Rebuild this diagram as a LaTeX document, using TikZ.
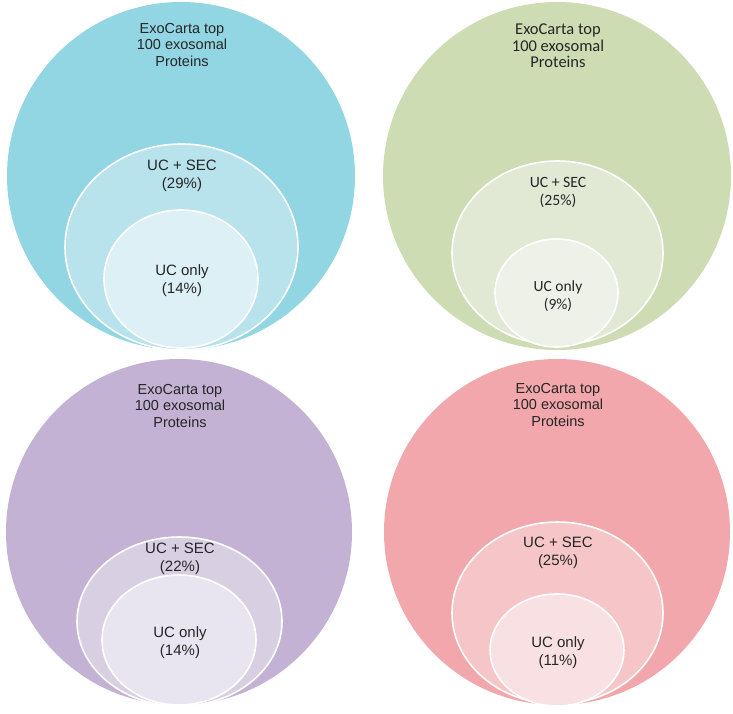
\documentclass[tikz,border=0pt]{standalone}
\usepackage{fontspec}
\setmainfont{Liberation Sans}
\newfontfamily\calfont{Carlito}
\definecolor{blueA}{HTML}{92D5E3}
\definecolor{blueB}{HTML}{B8E2EC}
\definecolor{blueC}{HTML}{DDF0F6}
\definecolor{greenA}{HTML}{CEDCB4}
\definecolor{greenB}{HTML}{E1E8D4}
\definecolor{greenC}{HTML}{EEF1E8}
\definecolor{purpA}{HTML}{C3B2D4}
\definecolor{purpB}{HTML}{D9CFE2}
\definecolor{purpC}{HTML}{E9E5F0}
\definecolor{pinkA}{HTML}{F1A7AB}
\definecolor{pinkB}{HTML}{F6C5C7}
\definecolor{pinkC}{HTML}{F9E0E2}
\tikzset{
  inring/.style={draw=white, line width=1.6pt},
  lbl/.style={align=center, inner sep=0pt, text=black!85, font=\fontsize{14.5}{16.5}\selectfont},
  lblmid/.style={align=center, inner sep=0pt, text=black!85, font=\fontsize{15}{18}\selectfont},
  lblcal/.style={align=center, inner sep=0pt, text=black!85, font=\calfont\fontsize{16.5}{16.5}\selectfont},
  lblcalmid/.style={align=center, inner sep=0pt, text=black!85, font=\calfont\fontsize{15.7}{18}\selectfont},
  lblcalin/.style={align=center, inner sep=0pt, text=black!85, font=\calfont\fontsize{15.5}{17.5}\selectfont},
}
\begin{document}
\begin{tikzpicture}[x=1pt,y=-1pt]
\useasboundingbox (0,0) rectangle (733,714);
\fill[white] (0,0) rectangle (733,714);
% Panel 1 (blue)
\fill[blueA] (181,176) circle (174);
\fill[blueB, inring] (181.5,247) ellipse [x radius=116.5, y radius=103];
\fill[blueC, inring] (181,279) ellipse [x radius=77, y radius=69];
\node[lbl] (t1) at (182,45) {ExoCarta top\\100 exosomal\\Proteins};
\node[lblmid] (m1) at (182,176) {UC + SEC\\(29\%)};
\node[lblmid] (i1) at (182,281) {UC only\\(14\%)};
% Panel 2 (green)
\fill[greenA] (557,176) circle (174);
\fill[greenB, inring] (557.5,253) ellipse [x radius=105.5, y radius=92];
\fill[greenC, inring] (556.5,293) ellipse [x radius=61.5, y radius=54];
\node[lblcal] (t2) at (558,46) {ExoCarta top\\100 exosomal\\Proteins};
\node[lblcalmid] (m2) at (558,192.5) {UC + SEC\\(25\%)};
\node[lblcalin] (i2) at (558,296) {UC only\\(9\%)};
% Panel 3 (purple)
\fill[purpA] (179,532) circle (173);
\fill[purpB, inring] (179.5,621.5) ellipse [x radius=102.5, y radius=84.5];
\fill[purpC, inring] (179,640) ellipse [x radius=77, y radius=65];
\node[lbl] (t3) at (180,406) {ExoCarta top\\100 exosomal\\Proteins};
\node[lblmid] (m3) at (180,559) {UC + SEC\\(22\%)};
\node[lblmid] (i3) at (180,643) {UC only\\(14\%)};
% Panel 4 (pink)
\fill[pinkA] (557,532) circle (173);
\fill[pinkB, inring] (557.5,613) ellipse [x radius=105.5, y radius=91];
\fill[pinkC, inring] (557,650) ellipse [x radius=67, y radius=56];
\node[lbl] (t4) at (558,405) {ExoCarta top\\100 exosomal\\Proteins};
\node[lblmid] (m4) at (558,553) {UC + SEC\\(25\%)};
\node[lblmid] (i4) at (558,653) {UC only\\(11\%)};
\end{tikzpicture}
\end{document}
